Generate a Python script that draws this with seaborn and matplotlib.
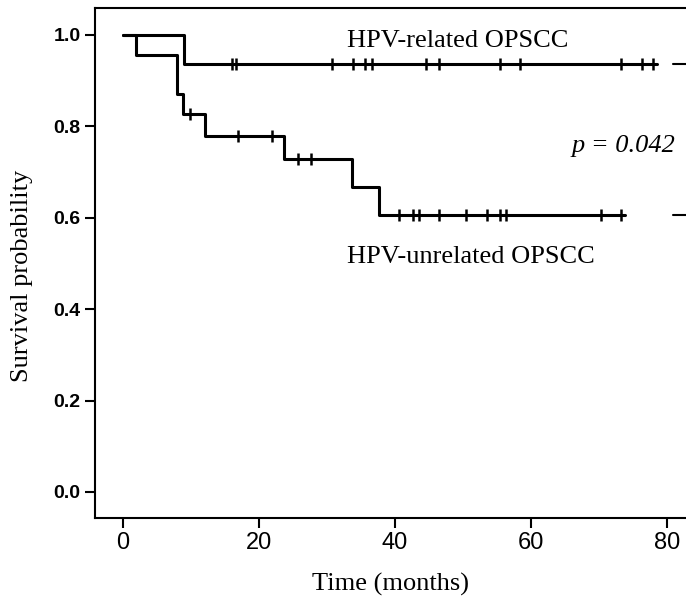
import numpy as np
import pandas as pd
import seaborn as sns
import matplotlib.pyplot as plt
from matplotlib.transforms import blended_transform_factory

# Kaplan-Meier steps (time in months, survival probability)
hpv_pos_times = [0, 9.0]
hpv_pos_surv = [1.0, 0.9375]
hpv_pos_end = 78.5
hpv_pos_censor = [16.0, 16.7, 30.7, 33.8, 35.6, 36.6, 44.6, 46.5, 55.4, 58.4, 73.3, 76.3, 78.0]

hpv_neg_times = [0, 1.9, 8.0, 8.8, 12.1, 23.7, 33.7, 37.7]
hpv_neg_surv = [1.0, 0.957, 0.870, 0.826, 0.780, 0.728, 0.667, 0.606]
hpv_neg_end = 73.8
hpv_neg_censor = [9.8, 16.9, 21.9, 25.8, 27.7, 40.6, 42.7, 43.5, 46.5, 50.5,
                  53.5, 55.4, 56.3, 70.3, 73.2]

x_ticks = [0, 20, 40, 60, 80]
y_ticks = [0.0, 0.2, 0.4, 0.6, 0.8, 1.0]


def step_frame(times, surv, end, group):
    return pd.DataFrame({"time": list(times) + [end],
                         "surv": list(surv) + [surv[-1]],
                         "group": group})


def surv_at(times, surv, t):
    idx = np.searchsorted(times, t, side="right") - 1
    return surv[idx]


curves = pd.concat([
    step_frame(hpv_pos_times, hpv_pos_surv, hpv_pos_end, "HPV-related OPSCC"),
    step_frame(hpv_neg_times, hpv_neg_surv, hpv_neg_end, "HPV-unrelated OPSCC"),
])

sns.set_style("ticks", {"text.color": "black", "axes.labelcolor": "black",
                        "xtick.color": "black", "ytick.color": "black"})
plt.rcParams["font.family"] = ["Liberation Serif", "DejaVu Serif"]

fig = plt.figure(figsize=(6.86, 5.98), dpi=100)
ax = fig.add_axes([0.1385, 0.1338, 0.8615, 0.8528])

sns.lineplot(data=curves, x="time", y="surv", units="group", estimator=None,
             drawstyle="steps-post", color="black", linewidth=2.2, ax=ax)

# censored marks
for times, surv, cens in [(hpv_pos_times, hpv_pos_surv, hpv_pos_censor),
                          (hpv_neg_times, hpv_neg_surv, hpv_neg_censor)]:
    ys = [surv_at(times, surv, c) for c in cens]
    ax.plot(cens, ys, linestyle="none", marker="|", markersize=9,
            markeredgewidth=1.8, color="black")

# short dashes at right edge (cut-off legend)
trans = blended_transform_factory(ax.transAxes, ax.transData)
for level in [hpv_pos_surv[-1], hpv_neg_surv[-1]]:
    ax.plot([0.978, 1.0], [level, level], transform=trans, color="black",
            linewidth=1.5, clip_on=False)

ax.set_xlim(-4.1, 82.8)
ax.set_ylim(-0.057, 1.059)
ax.set_xticks(x_ticks)
ax.set_yticks(y_ticks)
ax.set_xticklabels([str(t) for t in x_ticks], family="Liberation Sans", fontsize=17)
ax.set_yticklabels([f"{t:.1f}" for t in y_ticks], family="Liberation Sans", fontsize=14,
                   fontweight="bold")
ax.tick_params(direction="out", length=7, width=1.5, color="black", labelcolor="black")
ax.tick_params(axis="x", pad=3)

for side in ["left", "bottom", "top"]:
    ax.spines[side].set_linewidth(1.5)
    ax.spines[side].set_color("black")
ax.spines["right"].set_visible(False)

ax.set_xlabel("Time (months)", fontsize=19, color="black")
ax.set_ylabel("Survival probability", fontsize=19, color="black")
ax.xaxis.set_label_coords(0.5, -0.108)
ax.xaxis.label.set_va("top")
ax.yaxis.set_label_coords(-0.105, 0.4745)

ax.text(49.3, 0.974, "HPV-related OPSCC", fontsize=19, ha="center", va="baseline", color="black")
ax.text(51.2, 0.501, "HPV-unrelated OPSCC", fontsize=19, ha="center", va="baseline", color="black")
ax.text(73.6, 0.744, "p = 0.042", fontsize=19, style="italic", ha="center", va="baseline",
        color="black")

fig.savefig("out.png", dpi=100)
